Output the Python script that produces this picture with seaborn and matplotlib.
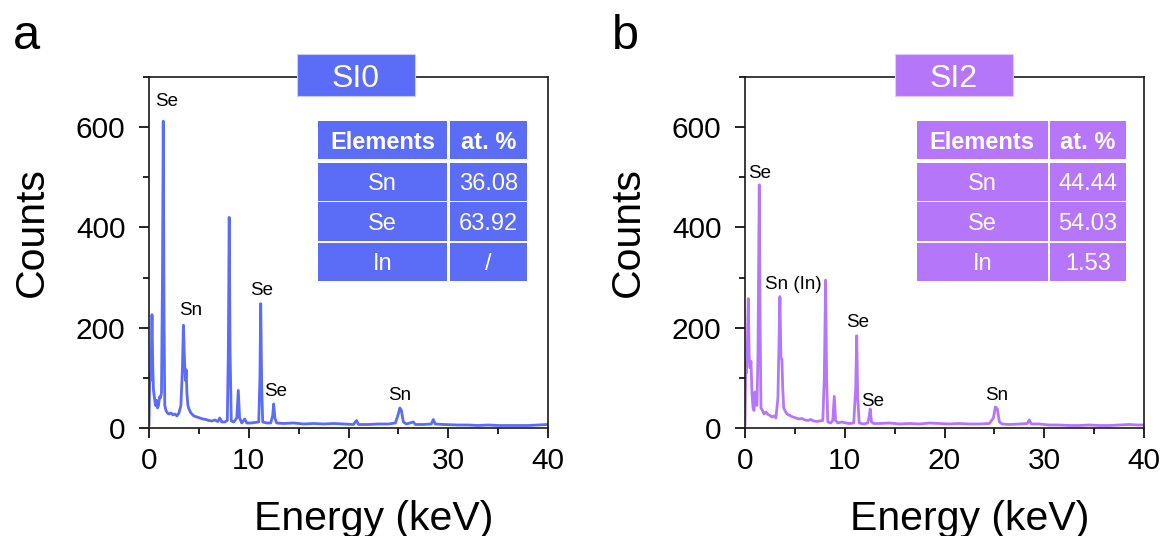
import numpy as np
import pandas as pd
import matplotlib
matplotlib.use("Agg")
import matplotlib.pyplot as plt
from matplotlib.patches import Rectangle
from matplotlib.ticker import MultipleLocator
import seaborn as sns

# ---------------- data ----------------
# EDS spectrum of sample SI0 (energy in keV, counts)
energy_si0 = [0.0, 0.08, 0.15, 0.22, 0.30, 0.38, 0.45, 0.55, 0.65, 0.75, 0.85, 0.95, 1.05, 1.15, 1.25,
              1.35, 1.43, 1.50, 1.58, 1.70, 1.85, 2.0, 2.2, 2.4, 2.6, 2.8, 3.0, 3.2, 3.35, 3.45, 3.55,
              3.65, 3.73, 3.80, 3.90, 4.0, 4.2, 4.5, 4.8, 5.1, 5.4, 5.7, 6.0, 6.3, 6.6, 6.9, 7.1, 7.3,
              7.6, 7.85, 7.95, 8.04, 8.13, 8.25, 8.5, 8.8, 8.95, 9.08, 9.3, 9.6, 9.8, 10.2, 10.6, 11.0,
              11.12, 11.2, 11.3, 11.4, 11.8, 12.2, 12.4, 12.5, 12.62, 12.8, 13.5, 14.5, 15.5, 16.5,
              17.5, 18.5, 19.5, 20.5, 20.8, 21.0, 22.0, 23.0, 24.0, 24.7, 24.95, 25.15, 25.3, 25.5,
              25.8, 26.5, 26.7, 27.5, 28.3, 28.5, 28.7, 29.5, 31.0, 32.0, 33.0, 34.0, 35.0, 36.0,
              37.0, 38.0, 39.0, 40.0]
counts_si0 = [5, 110, 95, 130, 226, 120, 75, 60, 45, 55, 40, 45, 62, 60, 70,
              300, 612, 250, 45, 35, 30, 28, 30, 26, 28, 24, 30, 45, 120, 205, 140,
              95, 116, 70, 45, 38, 30, 24, 22, 20, 18, 17, 15, 14, 16, 13, 20, 12,
              12, 15, 150, 420, 150, 14, 12, 20, 75, 20, 10, 18, 10, 10, 11, 12,
              100, 248, 80, 12, 10, 10, 25, 48, 20, 10, 9, 10, 8, 9,
              8, 9, 8, 7, 15, 7, 7, 8, 8, 10, 25, 40, 35, 12,
              8, 12, 7, 7, 8, 17, 8, 7, 6, 6, 5, 6, 5, 5,
              5, 5, 6, 7]

# EDS spectrum of sample SI2 (energy in keV, counts)
energy_si2 = [0.0, 0.08, 0.15, 0.25, 0.33, 0.42, 0.50, 0.60, 0.70, 0.80, 0.90, 1.0, 1.08, 1.2, 1.3,
              1.43, 1.52, 1.60, 1.75, 1.9, 2.1, 2.3, 2.5, 2.7, 2.9, 3.1, 3.3, 3.42, 3.5, 3.6, 3.7,
              3.78, 3.88, 4.0, 4.2, 4.5, 4.8, 5.1, 5.4, 5.7, 6.0, 6.3, 6.6, 6.9, 7.2, 7.5, 7.8,
              7.95, 8.08, 8.18, 8.3, 8.6, 8.8, 8.95, 9.08, 9.3, 9.7, 10.1, 10.5, 10.9, 11.1, 11.2,
              11.3, 11.45, 11.9, 12.3, 12.45, 12.55, 12.68, 12.9, 13.5, 14.5, 15.5, 16.5, 17.5,
              18.5, 19.5, 20.5, 21.5, 22.5, 23.5, 24.5, 24.9, 25.1, 25.3, 25.5, 25.8, 26.5, 27.5,
              28.3, 28.5, 28.7, 29.5, 30.5, 31.5, 32.5, 33.5, 34.5, 35.5, 36.5, 37.5, 38.5, 39.5,
              40.0]
counts_si2 = [5, 130, 110, 180, 258, 140, 120, 133, 70, 40, 35, 72, 50, 45, 150,
              485, 200, 40, 35, 28, 32, 27, 25, 22, 24, 20, 60, 180, 262, 140, 137,
              80, 40, 35, 28, 25, 22, 20, 18, 19, 16, 15, 17, 14, 13, 14, 15,
              100, 295, 100, 12, 10, 15, 63, 15, 10, 12, 10, 9, 10, 80, 184,
              60, 10, 8, 10, 22, 38, 12, 9, 9, 10, 8, 9, 8,
              10, 9, 8, 9, 8, 8, 9, 20, 42, 38, 12, 8, 7, 8,
              9, 16, 8, 8, 6, 6, 5, 5, 6, 5, 5, 6, 7, 6,
              6]

# peak assignments: (label, energy, counts at label baseline)
peaks_si0_labels = ["Se", "Sn", "Se", "Se", "Sn"]
peaks_si0_x = [1.77, 4.16, 11.33, 12.73, 25.12]
peaks_si0_y = [643, 226, 266, 63, 55]

peaks_si2_labels = ["Se", "Sn (In)", "Se", "Se", "Sn"]
peaks_si2_x = [1.47, 4.81, 11.25, 12.75, 25.23]
peaks_si2_y = [498, 278, 201, 43, 55]

# composition tables
table_header = ["Elements", "at. %"]
table_elements = ["Sn", "Se", "In"]
at_pct_si0 = ["36.08", "63.92", "/"]
at_pct_si2 = ["44.44", "54.03", "1.53"]

sample_names = ["SI0", "SI2"]
panel_letters = ["a", "b"]

# ---------------- style ----------------
sns.set_theme(style="ticks")
plt.rcParams["font.family"] = ["Liberation Sans", "DejaVu Sans"]
plt.rcParams["axes.linewidth"] = 1.2

BLUE = "#5b6cf6"
PURPLE = "#b676fa"

W, H = 1167, 536
fig = plt.figure(figsize=(W / 100, H / 100), dpi=100)


def px_axes(x0, y0, x1, y1):
    return fig.add_axes([x0 / W, 1 - y1 / H, (x1 - x0) / W, (y1 - y0) / H])


ax_a = px_axes(149, 77, 548, 428)
ax_b = px_axes(745, 77, 1144, 428)

panels = [
    dict(ax=ax_a, e=energy_si0, c=counts_si0, color=BLUE,
         lab=peaks_si0_labels, lx=peaks_si0_x, ly=peaks_si0_y, pct=at_pct_si0,
         cols=[(0.4236, 0.7462), (0.7556, 0.9474)], title_x=(0.370, 0.666),
         letter_x=13),
    dict(ax=ax_b, e=energy_si2, c=counts_si2, color=PURPLE,
         lab=peaks_si2_labels, lx=peaks_si2_x, ly=peaks_si2_y, pct=at_pct_si2,
         cols=[(0.4303, 0.7594), (0.7632, 0.9549)], title_x=(0.375, 0.671),
         letter_x=612),
]

# table rows in axes fraction (bottom, top)
header_row = (0.766, 0.875)
body_rows = [(0.648, 0.755), (0.533, 0.645), (0.419, 0.528)]

for i, p in enumerate(panels):
    ax = p["ax"]
    df = pd.DataFrame({"Energy": p["e"], "Counts": p["c"]})
    sns.lineplot(data=df, x="Energy", y="Counts", ax=ax, color=p["color"],
                 linewidth=2.0, sort=False, estimator=None)

    ax.set_xlim(0, 40)
    ax.set_ylim(0, 700)
    ax.xaxis.set_major_locator(MultipleLocator(10))
    ax.xaxis.set_minor_locator(MultipleLocator(5))
    ax.yaxis.set_major_locator(MultipleLocator(200))
    ax.yaxis.set_minor_locator(MultipleLocator(100))
    ax.tick_params(which="major", direction="out", length=7, width=1.2,
                   labelsize=21.5, color="black", labelcolor="black")
    ax.tick_params(axis="x", which="major", pad=7)
    ax.tick_params(axis="y", which="major", pad=10)
    ax.tick_params(which="minor", direction="out", length=4, width=1.2, color="black")
    for s in ax.spines.values():
        s.set_visible(True)
        s.set_color("#1a1a1a")
        s.set_linewidth(1.2)

    ax.set_xlabel("Energy (keV)", fontsize=29.5, color="black")
    ax.set_ylabel("Counts", fontsize=29.5, color="black")
    ax.xaxis.set_label_coords(0.564, -0.205)
    ax.yaxis.set_label_coords(-0.246, 0.558)

    # peak labels
    for t, x, y in zip(p["lab"], p["lx"], p["ly"]):
        ax.text(x, y, t, fontsize=13.5, ha="center", va="baseline", color="black")

    # sample title box over the top spine
    tx0, tx1 = p["title_x"]
    ax.add_patch(Rectangle((tx0, 0.946), tx1 - tx0, 0.119, transform=ax.transAxes,
                           facecolor=p["color"], edgecolor="#c9cdfb" if i == 0 else "#e2c8fd",
                           linewidth=0.8, clip_on=False, zorder=5))
    ax.text((tx0 + tx1) / 2, 0.946 + 0.119 / 2, sample_names[i], transform=ax.transAxes,
            fontsize=23, color="white", ha="center", va="center_baseline", zorder=6)

    # composition table
    rows = [header_row] + body_rows
    cells = [table_header] + [[el, v] for el, v in zip(table_elements, p["pct"])]
    for r, (yb, yt) in enumerate(rows):
        for c, (xl, xr) in enumerate(p["cols"]):
            ax.add_patch(Rectangle((xl, yb), xr - xl, yt - yb, transform=ax.transAxes,
                                   facecolor=p["color"], edgecolor="none", zorder=4))
            ax.text((xl + xr) / 2, (yb + yt) / 2, cells[r][c], transform=ax.transAxes,
                    fontsize=17, color="white", ha="center", va="center_baseline",
                    fontweight="bold" if r == 0 else "normal", zorder=6)

    fig.text(p["letter_x"] / W, 1 - 49 / H, panel_letters[i], fontsize=35,
             ha="left", va="baseline", color="black")

fig.savefig("out.png", dpi=100)
